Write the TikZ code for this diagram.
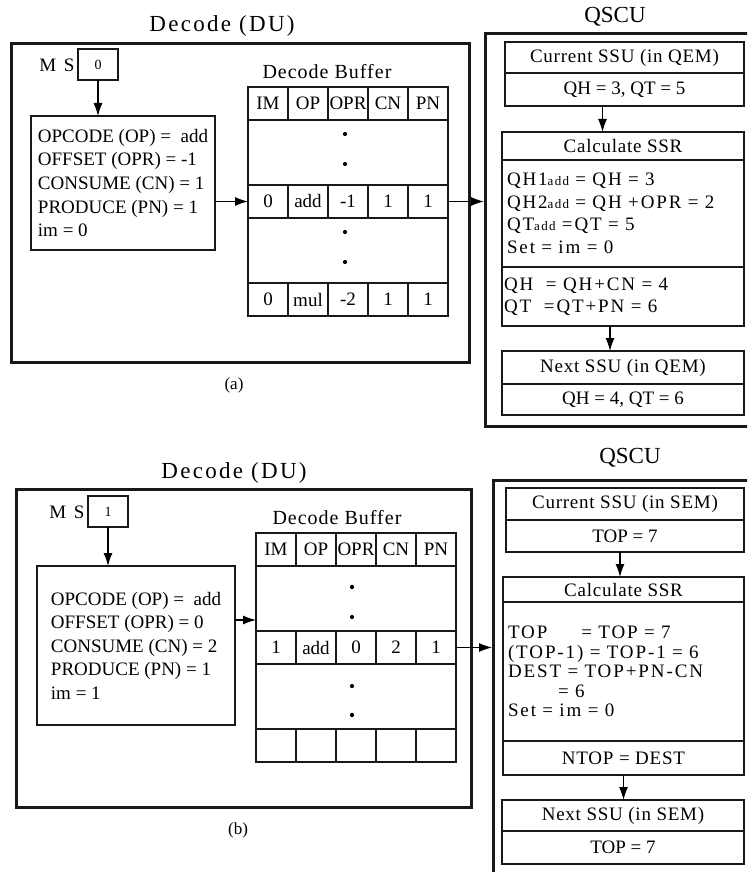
\documentclass[tikz,border=0pt]{standalone}
\usepackage{fontspec}
\setmainfont{Liberation Serif}
\usetikzlibrary{arrows.meta,positioning}

\newcommand{\sadd}{{\fontsize{13}{13}\selectfont add}}
\newcommand{\calcfont}[1]{\fontsize{19}{#1}\selectfont\addfontfeature{LetterSpace=10}\spaceskip=10pt plus 2pt minus 1pt\relax}

\tikzset{
  unit/.style={draw=black!90, line width=3pt},
  box/.style={draw=black!90, line width=1.3pt, inner sep=0pt, outer sep=0pt},
  cell/.style={box, minimum width=40pt, minimum height=33pt},
  gap/.style={box, minimum width=200pt, minimum height=65pt},
  arr/.style={line width=1.2pt, -{Latex[length=13pt,width=9pt]}},
  title/.style={font=\fontsize{23}{23}\selectfont\addfontfeature{LetterSpace=10}},
  hd/.style={font=\fontsize{19}{23}\selectfont\addfontfeature{LetterSpace=4}},
  mslabel/.style={font=\fontsize{19}{19}\selectfont\addfontfeature{LetterSpace=15}},
  msval/.style={box, minimum width=40pt, minimum height=31pt, font=\fontsize{14}{14}\selectfont},
}

\begin{document}
\begin{tikzpicture}[x=1pt,y=-1pt,font=\fontsize{19}{23.5}\selectfont]
\clip (0,0) rectangle (747,872);

% ---- (a) decode unit
\node[title] (du1t) at (222,26) {Decode (DU)};
\node[unit, anchor=north west, minimum width=458pt, minimum height=319pt] (du1) at (10,42) {};
\node[mslabel] (ms1) at (57,65) {M S};
\node[msval] (msv1) at (98,64.5) {0};
\node[box, anchor=north west, minimum width=184pt, minimum height=134pt, align=left] (inf1) at (31,116)
  {OPCODE (OP) = \ add\\ OFFSET (OPR) = -1\\ CONSUME (CN) = 1\\ PRODUCE (PN) = 1\\ im = 0};
\draw[arr] (msv1.south) -- (msv1.south |- inf1.north);

% decode buffer
\node[font=\fontsize{20}{20}\selectfont\addfontfeature{LetterSpace=5}] (db1) at (327,72) {Decode Buffer};
\foreach \t [count=\i from 0] in {IM,OP,OPR,CN,PN}
  \node[cell] (a-h\i) at (268+40*\i,103.5) {\t};
\node[gap] (a-g1) at (348,152.5) {};
\foreach \t [count=\i from 0] in {0,add,-1,1,1}
  \node[cell] (a-r\i) at (268+40*\i,201.5) {\t};
\node[gap] (a-g2) at (348,250.5) {};
\foreach \t [count=\i from 0] in {0,mul,-2,1,1}
  \node[cell] (a-m\i) at (268+40*\i,299.5) {\t};
\foreach \yy in {134,164,232,262}
  \fill (345,\yy) circle (2.1);
\draw[arr] (inf1.east |- a-r0.west) -- (a-r0.west);

% ---- (a) QSCU
\node[font=\fontsize{23}{23}\selectfont] (qs1t) at (615,17) {QSCU};
\node[unit, anchor=north west, minimum width=280pt, minimum height=393pt] (qs1) at (484,32) {};
\draw[arr] (a-r4.east) -- (a-r4.east -| qs1.west);
\node[box, hd, anchor=north west, minimum width=239pt, minimum height=31pt] (c1h) at (505,42) {Current SSU (in QEM)};
\node[box, below=0pt of c1h, minimum width=239pt, minimum height=33pt] (c1v) {QH = 3, QT = 5};
\node[box, hd, anchor=north west, minimum width=242pt, minimum height=28pt] (s1h) at (502,132) {Calculate SSR};
\node[box, font=\calcfont{22.5}, below=0pt of s1h, minimum width=242pt, minimum height=107pt, text width=232pt, align=left] (s1b)
  {QH1\sadd\ = QH = 3\\ QH2\sadd\ = QH +OPR = 2\\ QT\sadd\ =QT = 5\\ Set = im = 0};
\node[box, font=\calcfont{22.5}, below=0pt of s1b, minimum width=242pt, minimum height=59pt, text width=238pt, align=left] (s1c)
  {QH \ = QH+CN = 4\\ QT \ =QT+PN = 6};
\draw[arr] ([xshift=-22pt]c1v.south) -- ([xshift=-22pt]c1v.south |- s1h.north);
\node[box, hd, anchor=north west, minimum width=242pt, minimum height=33pt] (n1h) at (502,351) {Next SSU (in QEM)};
\node[box, below=0pt of n1h, minimum width=242pt, minimum height=31pt] (n1v) {QH = 4, QT = 6};
\draw[arr] ([xshift=-13pt]s1c.south) -- ([xshift=-13pt]s1c.south |- n1h.north);
\node[font=\fontsize{17}{17}\selectfont] (capa) at (234,385) {(a)};

% ---- (b) decode unit
\node[title] (du2t) at (234,473) {Decode (DU)};
\node[unit, anchor=north west, minimum width=455pt, minimum height=318pt] (du2) at (15,488) {};
\node[mslabel] (ms2) at (67,512) {M S};
\node[msval] (msv2) at (108,511.5) {1};
\node[box, anchor=north west, minimum width=198pt, minimum height=159pt, align=left] (inf2) at (37,566)
  {OPCODE (OP) = \ add\\ OFFSET (OPR) = 0\\ CONSUME (CN) = 2\\ PRODUCE (PN) = 1\\ im = 1};
\draw[arr] (msv2.south) -- (msv2.south |- inf2.north);

% decode buffer
\node[font=\fontsize{20}{20}\selectfont\addfontfeature{LetterSpace=5}] (db2) at (337,518) {Decode Buffer};
\foreach \t [count=\i from 0] in {IM,OP,OPR,CN,PN}
  \node[cell] (b-h\i) at (276+40*\i,549.5) {\t};
\node[gap] (b-g1) at (356,598.5) {};
\foreach \t [count=\i from 0] in {1,add,0,2,1}
  \node[cell] (b-r\i) at (276+40*\i,647.5) {\t};
\node[gap] (b-g2) at (356,696.5) {};
\foreach \i in {0,...,4}
  \node[cell] (b-e\i) at (276+40*\i,745.5) {};
\foreach \yy in {587,617,686,715}
  \fill (352,\yy) circle (2.1);
\coordinate (y2) at (0,620);
\draw[arr] (inf2.east |- y2) -- (b-g1.west |- y2);

% ---- (b) QSCU
\node[font=\fontsize{23}{23}\selectfont] (qs2t) at (630,458) {QSCU};
\node[unit, anchor=north west, minimum width=272pt, minimum height=420pt] (qs2) at (492,479) {};
\draw[arr] (b-r4.east) -- (b-r4.east -| qs2.west);
\node[box, hd, anchor=north west, minimum width=238pt, minimum height=32pt] (c2h) at (506,488) {Current SSU (in SEM)};
\node[box, below=0pt of c2h, minimum width=238pt, minimum height=32pt] (c2v) {TOP = 7};
\node[box, hd, anchor=north west, minimum width=241pt, minimum height=25pt] (s2h) at (503,577) {Calculate SSR};
\node[box, font=\calcfont{19.5}, below=0pt of s2h, minimum width=241pt, minimum height=139pt, text width=231pt, align=left] (s2b)
  {TOP\hspace{34pt}= TOP = 7\\ (TOP-1) = TOP-1 = 6\\ DEST = TOP+PN-CN\\ \hspace{50pt}= 6\\ Set = im = 0};
\node[box, hd, below=0pt of s2b, minimum width=241pt, minimum height=34pt] (s2c) {NTOP = DEST};
\draw[arr] ([xshift=-5pt]c2v.south) -- ([xshift=-5pt]c2v.south |- s2h.north);
\node[box, hd, anchor=north west, minimum width=242pt, minimum height=31pt] (n2h) at (502,800) {Next SSU (in SEM)};
\node[box, below=0pt of n2h, minimum width=242pt, minimum height=33pt] (n2v) {TOP = 7};
\draw[arr] (s2c.south) -- (s2c.south |- n2h.north);
\node[font=\fontsize{17}{17}\selectfont] (capb) at (238,830) {(b)};
\end{tikzpicture}
\end{document}
